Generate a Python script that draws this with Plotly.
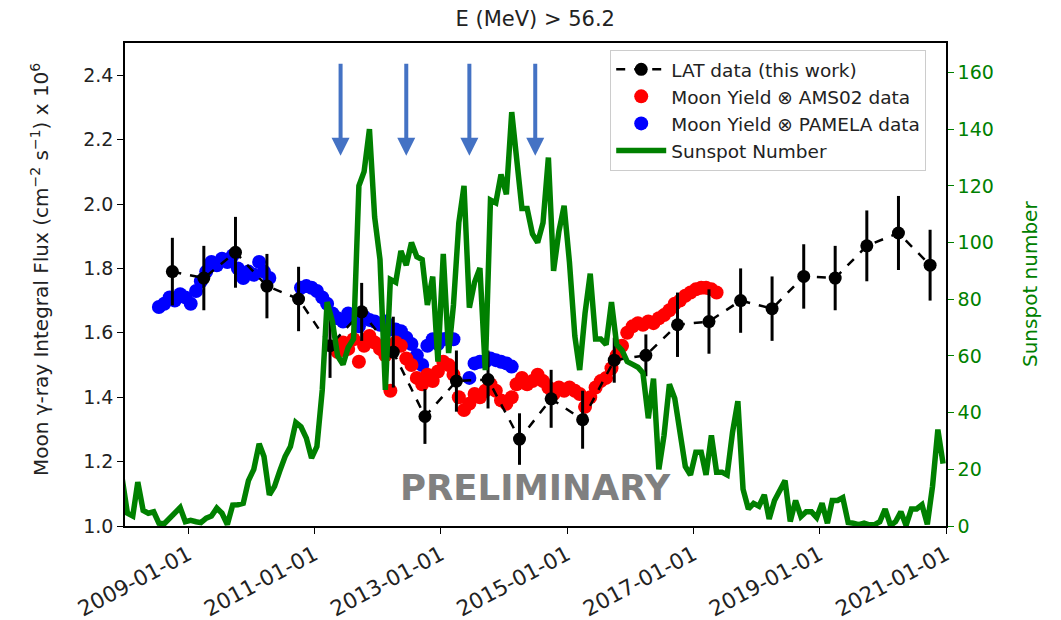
import pandas as pd
import plotly.graph_objects as go

# ---------------- data ----------------
# Fermi-LAT Moon integral flux, half-year bins (x 1e6 cm^-2 s^-1)
lat_start = "2008-10-01"
lat_flux = [1.79, 1.77, 1.85, 1.745, 1.705, 1.56, 1.665, 1.54, 1.34, 1.45,
            1.455, 1.27, 1.395, 1.33, 1.515, 1.53, 1.625, 1.635, 1.70, 1.675,
            1.775, 1.77, 1.87, 1.91, 1.81]
lat_err = [0.105, 0.10, 0.11, 0.10, 0.10, 0.10, 0.09, 0.11, 0.085, 0.095,
           0.09, 0.08, 0.09, 0.09, 0.07, 0.065, 0.10, 0.10, 0.10, 0.10,
           0.10, 0.10, 0.11, 0.115, 0.11]

# Moon yield folded with AMS-02 proton spectra (monthly, from 2011-05)
ams_start = "2011-05-01"
ams_flux = [1.54, 1.57, 1.55, 1.58, 1.51, 1.56, 1.59, 1.57,
            1.55, 1.53, 1.42, 1.57, 1.56, 1.52, 1.50, 1.46, 1.44, 1.47, 1.45, 1.48,
            1.51, 1.50, 1.47, 1.40, 1.36, 1.38, 1.41, 1.40, 1.42, 1.44, 1.42, 1.39,
            1.38, 1.40, 1.44, 1.46, 1.44, 1.45, 1.47, 1.45, 1.43, 1.41, 1.43, 1.42,
            1.43, 1.42, 1.41, 1.37, 1.40, 1.43, 1.45, 1.46, 1.49, 1.53, 1.56, 1.60,
            1.62, 1.63, 1.625, 1.635, 1.63, 1.645, 1.655, 1.67, 1.69, 1.70, 1.715, 1.725,
            1.735, 1.74, 1.74, 1.735, 1.725]

# Moon yield folded with PAMELA proton spectra (monthly, three stretches)
pam_a_start = "2008-07-01"
pam_a_flux = [1.68, 1.69, 1.71, 1.70, 1.72, 1.71, 1.69, 1.73, 1.76, 1.79, 1.82,
              1.81, 1.83, 1.82, 1.84, 1.80, 1.77, 1.79, 1.78, 1.82, 1.79, 1.77]
pam_b_start = "2010-10-01"
pam_b_flux = [1.74, 1.745, 1.74, 1.73, 1.71, 1.69, 1.66, 1.645, 1.635, 1.66,
              1.645, 1.62, 1.65, 1.64, 1.635, 1.625, 1.635, 1.61, 1.61, 1.605,
              1.585, 1.565, 1.53, 1.50, 1.56, 1.58, 1.565, 1.58, 1.585, 1.58]
pam_c_start = "2013-06-01"
pam_c_flux = [1.46, 1.505, 1.51, 1.51, 1.52, 1.515, 1.51, 1.505, 1.495]

# Monthly mean total sunspot number
ssn_start = "2007-12-01"
ssn = [17,
       4.5, 3.5, 15.5, 5.5, 4.5, 5, 1, 0.8, 2.5, 4.5, 6.5, 1.5,
       2, 1.5, 1.2, 2.8, 3.5, 6.3, 4.5, 0.5, 7.4, 7.5, 8, 16,
       20, 29, 24.5, 11, 14, 19.5, 24.5, 28, 36.5, 35, 31, 24,
       28, 48, 79, 72, 60, 57, 63, 66, 120, 125, 140, 109,
       94, 48, 87, 86, 97, 92, 100, 95, 94, 78, 88, 58,
       96, 61, 78, 107, 120, 77, 86, 91, 55, 115, 114, 124,
       117, 146, 129, 112, 112, 103, 100, 107, 130, 90, 104, 113,
       93, 67, 55, 75, 89, 66, 66, 64, 79, 64, 62, 58,
       57, 56, 54, 38, 52, 20, 32, 50, 45, 33, 21, 18,
       26, 26, 18, 32, 19, 19, 18, 33, 44, 13, 6, 8,
       7, 11, 2.5, 9, 13, 16, 1.6, 9, 3.3, 5, 5, 3,
       8, 1, 9, 9, 10, 1.2, 1, 0.5, 1, 0.4, 0.5, 1.5,
       6, 0.2, 1.5, 5, 0.2, 6, 6, 7.5, 0.6, 14, 34, 22]

# Epochs marked with arrows
arrow_dates = ["2011-06-01", "2012-06-15", "2013-06-15", "2014-07-01"]
arrow_tip, arrow_tail = 2.15, 2.44

x_ticks = ["2009-01-01", "2011-01-01", "2013-01-01", "2015-01-01",
           "2017-01-01", "2019-01-01", "2021-01-01"]


def monthly(start, n):
    return pd.date_range(start, periods=n, freq="MS") + pd.Timedelta(days=14)


lat_dates = pd.date_range(lat_start, periods=len(lat_flux), freq="6MS")

FONT = "DejaVu Sans"
TXT = "#222222"
fig = go.Figure()

fig.add_trace(go.Scatter(
    x=monthly(pam_a_start, len(pam_a_flux)), y=pam_a_flux, mode="markers",
    marker=dict(color="blue", size=14), name="Moon Yield ⊗ PAMELA data",
    legendrank=3))
fig.add_trace(go.Scatter(
    x=monthly(pam_b_start, len(pam_b_flux)), y=pam_b_flux, mode="markers",
    marker=dict(color="blue", size=14), showlegend=False))
fig.add_trace(go.Scatter(
    x=monthly(pam_c_start, len(pam_c_flux)), y=pam_c_flux, mode="markers",
    marker=dict(color="blue", size=14), showlegend=False))
fig.add_trace(go.Scatter(
    x=monthly(ams_start, len(ams_flux)), y=ams_flux, mode="markers",
    marker=dict(color="red", size=14), name="Moon Yield ⊗ AMS02 data",
    legendrank=2))
fig.add_trace(go.Scatter(
    x=lat_dates, y=lat_flux, mode="lines+markers",
    line=dict(color="black", width=2.5, dash="dash"),
    marker=dict(color="black", size=13),
    error_y=dict(type="data", array=lat_err, color="black", thickness=3, width=0),
    name="LAT data (this work)", legendrank=1))
fig.add_trace(go.Scatter(
    x=monthly(ssn_start, len(ssn)), y=ssn, mode="lines", yaxis="y2",
    line=dict(color="green", width=5.5), name="Sunspot Number", legendrank=4))

for d in arrow_dates:
    fig.add_annotation(x=d, y=arrow_tip, ax=d, ay=arrow_tail,
                       xref="x", yref="y", axref="x", ayref="y",
                       showarrow=True, arrowhead=2, arrowsize=0.9,
                       arrowwidth=4, arrowcolor="#4472C4", text="")

fig.add_annotation(x=0.5, y=0.079, xref="paper", yref="paper",
                   xanchor="center", yanchor="middle",
                   text="<b>PRELIMINARY</b>", showarrow=False,
                   font=dict(family=FONT, size=35.5, color="#808080"))

# Axis titles
fig.add_annotation(x=-0.1035, y=0.53, xref="paper", yref="paper",
                   xanchor="center", yanchor="middle", textangle=-90,
                   text="Moon γ-ray Integral Flux (cm<sup>−2</sup> s<sup>−1</sup>) x 10<sup>6</sup>",
                   showarrow=False, font=dict(family=FONT, size=20, color=TXT))
fig.add_annotation(x=1.1023, y=0.501, xref="paper", yref="paper",
                   xanchor="center", yanchor="middle", textangle=-90,
                   text="Sunspot number", showarrow=False,
                   font=dict(family=FONT, size=20, color="green"))

axis_common = dict(ticks="outside", ticklen=6, tickwidth=1.3, tickcolor="black",
                   showline=True, linecolor="black", linewidth=1.5,
                   showgrid=False, zeroline=False, automargin=False)

fig.update_layout(
    width=1061, height=620,
    margin=dict(l=125, r=115, t=43, b=94),
    paper_bgcolor="white", plot_bgcolor="white",
    font=dict(family=FONT, size=19, color=TXT),
    title=dict(text="E (MeV) > 56.2", x=0.5045, xanchor="center",
               y=0.97, yanchor="middle", font=dict(size=21, color=TXT)),
    xaxis=dict(type="date", range=["2008-01-01", "2021-01-01"],
               tickvals=x_ticks, ticktext=x_ticks, tickangle=-28,
               tickfont=dict(size=21.5), mirror=True, **axis_common),
    yaxis=dict(range=[1.0, 2.5], tick0=1.0, dtick=0.2, tickformat=".1f",
               mirror=False, **axis_common),
    yaxis2=dict(overlaying="y", side="right", range=[0, 170.4], tick0=0, dtick=20,
                tickfont=dict(color="green"),
                ticks="outside", ticklen=6, tickwidth=1.3, tickcolor="green",
                showline=True, linecolor="black", linewidth=1.5,
                showgrid=False, zeroline=False, automargin=False),
    legend=dict(x=0.591, y=0.986, xanchor="left", yanchor="top",
                bgcolor="white", bordercolor="#cccccc", borderwidth=1,
                itemwidth=50,
                font=dict(size=18.5, color=TXT), tracegroupgap=0),
    showlegend=True,
)

fig.write_html("out.html")
